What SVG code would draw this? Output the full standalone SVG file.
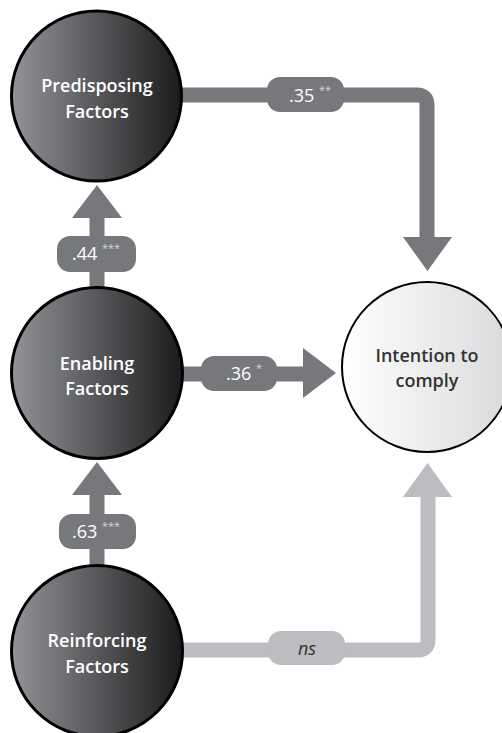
<svg xmlns="http://www.w3.org/2000/svg" width="502" height="733" viewBox="0 0 502 733">
<defs>
<linearGradient id="dark" x1="0" y1="0" x2="1" y2="0">
<stop offset="0" stop-color="#939498"/>
<stop offset="1" stop-color="#1b1b1d"/>
</linearGradient>
<linearGradient id="light" x1="0" y1="0" x2="1" y2="0">
<stop offset="0" stop-color="#ffffff"/>
<stop offset="1" stop-color="#d9dadc"/>
</linearGradient>
<style>
.dk{fill:none;stroke:#77787c;stroke-width:15}
.lt{fill:none;stroke:#bcbdc0;stroke-width:15}
.dkh{fill:#77787c}
.lth{fill:#bcbdc0}
.pd{fill:#77787c}
.pl{fill:#bcbdc0}
.node{fill:url(#dark);stroke:#000;stroke-width:3}
.inode{fill:url(#light);stroke:#000;stroke-width:2}
.nt{font-family:"Open Sans","Noto Sans",sans-serif;font-size:18px;font-weight:600;fill:#fff;text-anchor:middle}
.it{font-family:"Open Sans","Noto Sans",sans-serif;font-size:18px;font-weight:600;fill:#333;text-anchor:middle}
.lb{font-family:"Open Sans","Noto Sans",sans-serif;font-size:18px;fill:#fff}
.st{font-size:11px;fill:#d4d4d6}
.ns{font-family:"Open Sans","Noto Sans",sans-serif;font-size:18px;font-style:italic;fill:#333;text-anchor:middle}
</style>
</defs>
<g id="connectors">
<path class="dk" d="M180,95 H417 Q427,95 427,105 V239"/>
<polygon class="dkh" points="403,237 452,237 427.5,271"/>
<path class="dk" d="M182,374 H305"/>
<polygon class="dkh" points="303,348 303,398 336,373"/>
<path class="dk" d="M97,290 V216"/>
<polygon class="dkh" points="72,218 122,218 97,185"/>
<path class="dk" d="M97,568 V493"/>
<polygon class="dkh" points="72,495 122,495 97,462"/>
<path class="lt" d="M182,650 H418 Q428,650 428,640 V495"/>
<polygon class="lth" points="403,497 452,497 427.5,463"/>
<rect class="pd" x="267" y="77" width="77" height="35" rx="13"/>
<text class="lb" x="289" y="102">.35 <tspan class="st" dy="-8">**</tspan></text>
<rect class="pd" x="201" y="356" width="76" height="35" rx="13"/>
<text class="lb" x="226" y="380">.36 <tspan class="st" dy="-8">*</tspan></text>
<rect class="pd" x="57" y="236" width="79" height="36" rx="13"/>
<text class="lb" x="72" y="260">.44 <tspan class="st" dy="-8">***</tspan></text>
<rect class="pd" x="59" y="514" width="77" height="35" rx="13"/>
<text class="lb" x="72" y="538">.63 <tspan class="st" dy="-8">***</tspan></text>
<rect class="pl" x="268" y="631" width="77" height="34" rx="13"/>
<text class="ns" x="307" y="655">ns</text>
</g>
<g id="predisposing">
<circle class="node" cx="96.5" cy="96" r="85"/>
<text class="nt" x="97" y="92">Predisposing</text>
<text class="nt" x="97" y="118">Factors</text>
</g>
<g id="enabling">
<circle class="node" cx="97" cy="373" r="85.5"/>
<text class="nt" x="97" y="370">Enabling</text>
<text class="nt" x="97" y="395">Factors</text>
</g>
<g id="reinforcing">
<circle class="node" cx="97" cy="651" r="85.5"/>
<text class="nt" x="97" y="647">Reinforcing</text>
<text class="nt" x="97" y="673">Factors</text>
</g>
<g id="intention">
<circle class="inode" cx="427" cy="367" r="85"/>
<text class="it" x="427" y="362">Intention to</text>
<text class="it" x="427" y="387">comply</text>
</g>
</svg>
